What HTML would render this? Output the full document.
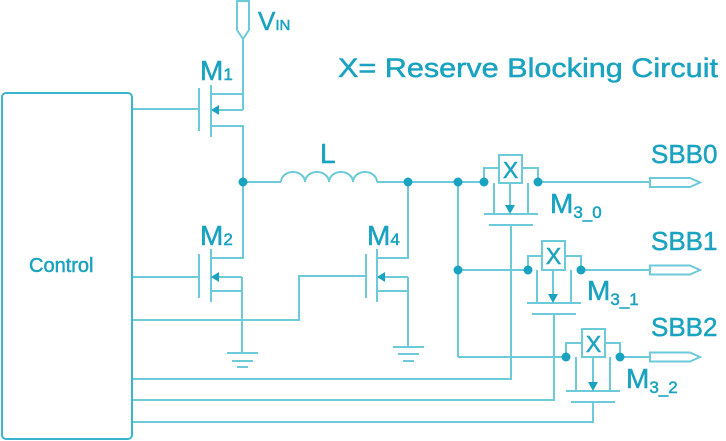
<!DOCTYPE html>
<html><head><style>body{margin:0;background:#fff}svg{display:block}</style></head>
<body>
<svg width="726" height="441" viewBox="0 0 726 441" xmlns="http://www.w3.org/2000/svg" font-family="Liberation Sans, sans-serif">
<g fill="none" stroke="#6ccad9" stroke-width="2">
<rect x="2" y="93" width="130" height="346" rx="4" stroke="#3bb5cf"/>
<path d="M237 1 V30 L243 39 L249 30 V1 Z"/>
<path d="M243 39 V110"/>
<path d="M133 109 H199 M199 88 V131 M211 85 V137 M211 94 H243 M243 110 H216 M211 126 H243 V182"/>
<path d="M243 182 H281"/>
<path d="M281 182 a12 10 0 0 1 24 0 a12 10 0 0 1 24 0 a12 10 0 0 1 24 0 a12 10 0 0 1 24 0"/>
<path d="M377 182 H484"/>
<path d="M243 182 V258 H211 M211 249 V302 M199 254 V298 M133 277 H199 M242 277 H216 M211 291 H242 M242 277 V353 M227 353 H258 M232 361 H253 M237 367 H248"/>
<path d="M133 320 H299 V276 H366 M366 254 V298 M377 249 V302 M408 182 V258 H377 M408 277 H382 M377 291 H408 M408 277 V347 M393 347 H424 M398 354 H419 M403 361 H414"/>
<path d="M458 182 V357 M458 270 H528 M458 357 H566"/>
<path d="M484 182 V168 H499 M522 168 H538 V182 M538 182 H650 M494 183 V214 M528 183 V214 M484 214 H538 M489 225 H533 M511 225 V379 H133 M510 183 V206"/>
<rect x="499" y="155" width="23" height="28"/>
<path d="M650 178 H690 L700 182.5 L690 187 H650 Z"/>
<path d="M528 270 V256 H542 M565 256 H581 V270 M581 270 H650 M537 270 V303 M571 270 V303 M527 303 H581 M532 314 H576 M554 314 V400 H133 M553 270 V295"/>
<rect x="542" y="241" width="23" height="29"/>
<path d="M650 265.5 H690 L700 270 L690 274.5 H650 Z"/>
<path d="M566 357 V343 H582 M605 343 H620 V357 M620 357 H650 M576 357 V391 M610 357 V391 M566 391 H620 M571 402 H615 M593 402 V422 H133 M593 357 V383"/>
<rect x="582" y="329" width="23" height="28"/>
<path d="M650 352.5 H690 L700 357 L690 361.5 H650 Z"/>
</g>
<g fill="#1aa3c0">
<path d="M211 110 L219 105 V115 Z M211 277 L219 272 V282 Z M377 277 L385 272 V282 Z M510 214 L505 205 H515 Z M553 303 L548 294 H558 Z M593 391 L588 382 H598 Z"/>
<circle cx="243" cy="182" r="4.5"/><circle cx="408" cy="182" r="4.5"/><circle cx="458" cy="182" r="4.5"/><circle cx="484" cy="182" r="4.5"/><circle cx="538" cy="182" r="4.5"/>
<circle cx="458" cy="270" r="4.5"/><circle cx="528" cy="270" r="4.5"/><circle cx="581" cy="270" r="4.5"/>
<circle cx="566" cy="357" r="4.5"/><circle cx="620" cy="357" r="4.5"/>
</g>
<g fill="#1aa3c0" stroke="#1aa3c0" stroke-width="0.5">
<text x="29" y="272" font-size="20">Control</text>
<text x="338" y="77" font-size="27" textLength="380" lengthAdjust="spacingAndGlyphs">X= Reserve Blocking Circuit</text>
<text x="258" y="30" font-size="26">V<tspan font-size="15">IN</tspan></text>
<text x="200" y="80" font-size="28">M<tspan font-size="17">1</tspan></text>
<text x="200" y="245" font-size="28">M<tspan font-size="17">2</tspan></text>
<text x="367" y="245" font-size="28">M<tspan font-size="17">4</tspan></text>
<text x="320" y="163" font-size="28">L</text>
<text x="550" y="213" font-size="28">M<tspan font-size="17" dy="5">3_0</tspan></text>
<text x="587" y="300" font-size="28">M<tspan font-size="17" dy="5">3_1</tspan></text>
<text x="626" y="388" font-size="28">M<tspan font-size="17" dy="5">3_2</tspan></text>
<text x="651" y="163" font-size="26">SBB0</text>
<text x="651" y="250" font-size="26">SBB1</text>
<text x="651" y="336" font-size="26">SBB2</text>
<text x="510.5" y="178" font-size="23" text-anchor="middle">X</text>
<text x="553.5" y="264" font-size="23" text-anchor="middle">X</text>
<text x="593.5" y="352" font-size="23" text-anchor="middle">X</text>
</g>
</svg>
</body></html>
